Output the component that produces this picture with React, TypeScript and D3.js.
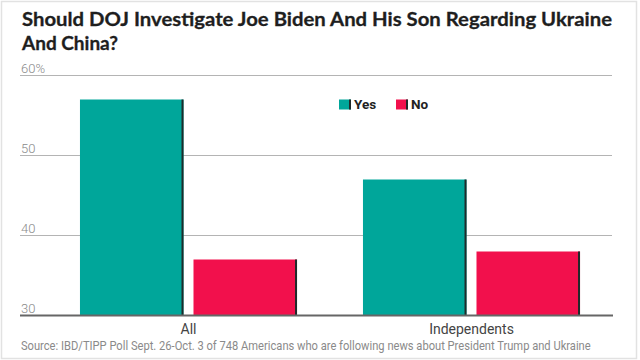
import React from "react";
import * as d3 from "d3";

const groups = ["All", "Independents"];
const seriesNames = ["Yes", "No"];
const yesValues = [57, 47];
const noValues = [37, 38];
const yTicks = [30, 40, 50, 60];
const titleLines = [
  "Should DOJ Investigate Joe Biden And His Son Regarding Ukraine",
  "And China?",
];
const sourceText =
  "Source: IBD/TIPP Poll Sept. 26-Oct. 3 of 748 Americans who are following news about President Trump and Ukraine";

const W = 640;
const H = 360;
const colors: Record<string, string> = { Yes: "#00A69A", No: "#F2104C" };

export default function App() {
  const y = d3.scaleLinear().domain([30, 60]).range([315.5, 75.5]);
  const x0 = d3
    .scaleBand<string>()
    .domain(groups)
    .range([47, 613])
    .paddingInner(0.233)
    .paddingOuter(0.1165);
  const x1 = d3
    .scaleBand<string>()
    .domain(seriesNames)
    .range([0, x0.bandwidth()])
    .paddingInner(0.088);
  const values: Record<string, number[]> = { Yes: yesValues, No: noValues };
  const gridLeft = 20;
  const gridRight = 612;

  return (
    <svg
      width={W}
      height={H}
      style={{ position: "absolute", left: 0, top: 0, background: "#fff" }}
      fontFamily="Roboto, sans-serif"
    >
      <rect x={0} y={0} width={W} height={H} fill="#fff" />
      <rect x={1.5} y={1.5} width={635} height={357} fill="none" stroke="#e2e2e2" strokeWidth={1.5} />
      {titleLines.map((t, i) => (
        <text
          key={i}
          x={22}
          y={26 + i * 23.5}
          fontFamily="Lato, sans-serif"
          fontWeight={700}
          fontSize={19}
          fill="#1e1e1e"
          stroke="#1e1e1e"
          strokeWidth={0.3}
          {...(i === 0 ? { textLength: 590, lengthAdjust: "spacingAndGlyphs" } : {})}
        >
          {t}
        </text>
      ))}
      {yTicks.map((t) => (
        <g key={t}>
          {t !== 30 && (
            <line x1={gridLeft} x2={gridRight} y1={y(t)} y2={y(t)} stroke="#b4b4b4" strokeWidth={1} />
          )}
          <text x={21} y={y(t) - 3} fontSize={13} fontWeight={300} fill="#8a8a8a">
            {t === 60 ? "60%" : String(t)}
          </text>
        </g>
      ))}
      {groups.map((g, gi) => (
        <g key={g} transform={`translate(${x0(g)},0)`}>
          {seriesNames.map((s) => {
            const v = values[s][gi];
            const bx = x1(s)!;
            const bw = x1.bandwidth();
            return (
              <g key={s}>
                <rect x={bx} y={y(v)} width={bw} height={y(30) - y(v)} fill={colors[s]} />
                <rect x={bx + bw - 2} y={y(v)} width={2} height={y(30) - y(v)} fill="#1f2a2a" />
              </g>
            );
          })}
          <text
            x={x0.bandwidth() / 2}
            y={334}
            textAnchor="middle"
            fontSize={14}
            fill="#444"
          >
            {g}
          </text>
        </g>
      ))}
      <line x1={gridLeft} x2={gridRight + 1} y1={y(30)} y2={y(30)} stroke="#666" strokeWidth={2} />
      {seriesNames.map((s, i) => {
        const lx = 339 + i * 57;
        return (
          <g key={s}>
            <rect x={lx} y={99.5} width={12} height={10} fill={colors[s]} />
            <rect x={lx + 10} y={99.5} width={2} height={10} fill="#1f2a2a" />
            <text x={lx + 15} y={109} fontSize={13.5} fontWeight={700} fill="#222">
              {s}
            </text>
          </g>
        );
      })}
      <g transform="translate(21,350) scale(0.9,1)">
        <text
          x={0}
          y={0}
          fontSize={12.5}
          fill="#8a8a8a"
          textLength={633}
          lengthAdjust="spacingAndGlyphs"
        >
          {sourceText}
        </text>
      </g>
    </svg>
  );
}
